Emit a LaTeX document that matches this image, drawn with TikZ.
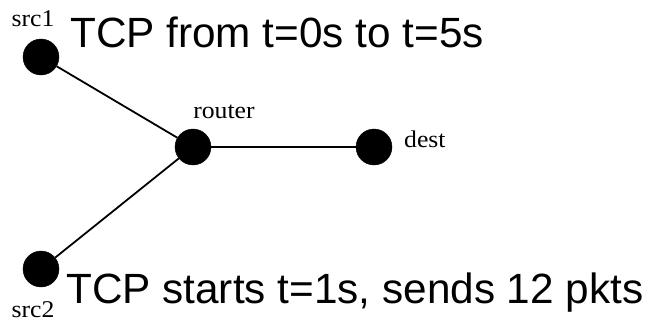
\documentclass[tikz,border=0pt]{standalone}
\usepackage{fontspec}
\usepackage{tikz}

\newfontfamily\tagfont[FakeStretch=1.07]{Liberation Serif}
\newfontfamily\notefont{Liberation Sans}

\begin{document}
\begin{tikzpicture}[x=1pt,y=-1pt,
	host/.style={shape=circle,fill=black,draw=black,minimum size=36pt,inner sep=0pt},
	tag/.style={inner sep=0pt,font=\tagfont\fontsize{24}{28}\selectfont},
	note/.style={inner sep=0pt,anchor=base west,font=\notefont\fontsize{42.3}{50}\selectfont}]
	
	\useasboundingbox (0,0) rectangle (649,330);
	
	\node[host] (src1)   at (41, 57)   {};
	\node[host] (router) at (193, 147) {};
	\node[host] (dest)   at (374, 147) {};
	\node[host] (src2)   at (41, 269)  {};
	
	\node[tag,anchor=base] (src1lbl)   at (33, 26)    {src1};
	\node[tag,anchor=base] (routerlbl) at (224, 118)  {router};
	\node[tag,anchor=base west] (destlbl) at (404, 147) {dest};
	\node[tag,anchor=base] (src2lbl)   at (33, 317)   {src2};
	
	\node[note] (flow1) at (70, 47)  {TCP from t=0s to t=5s};
	\node[note] (flow2) at (66, 303) {TCP starts t=1s, sends 12 pkts};
	
	\path[-,line width=1.8pt] (src1) edge (router);
	\path[-,line width=1.8pt] (src2) edge (router);
	\path[-,line width=1.8pt] (router) edge (dest);
	\end{tikzpicture}
\end{document}
